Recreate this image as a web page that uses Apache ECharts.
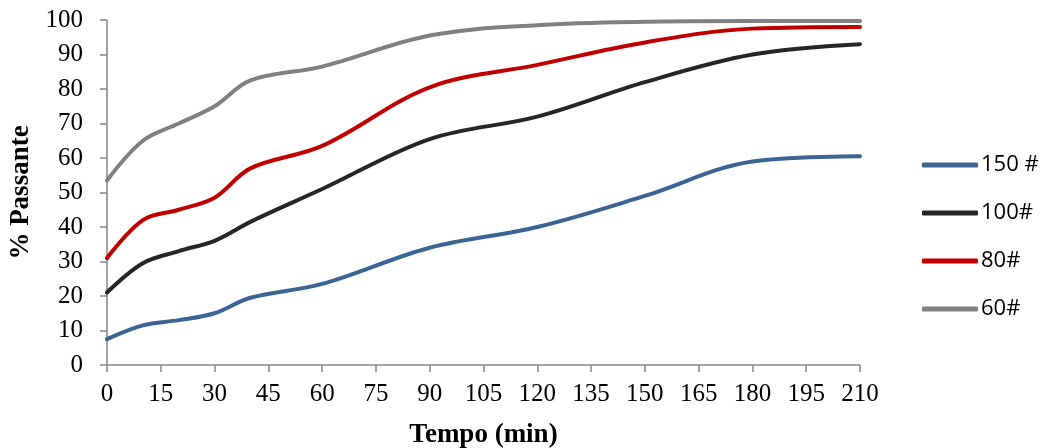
<!DOCTYPE html>
<html>
<head>
<meta charset="utf-8">
<script src="https://cdn.jsdelivr.net/npm/echarts@6/dist/echarts.min.js"></script>
<style>
  html, body { margin: 0; padding: 0; background: #fff; }
  #chart { width: 1046px; height: 448px; }
</style>
</head>
<body>
<div id="chart"></div>
<script>
// tempo (min) dos pontos medidos
let tempo = [0, 10, 20, 30, 40, 60, 90, 120, 150, 180, 210];

// % passante por malha
let malha150 = [7.5, 11.5, 13, 15, 19.5, 23.5, 34, 40, 49, 59, 60.5];
let malha100 = [21, 29.5, 33, 36, 41.5, 51, 65.5, 72, 82, 90, 93];
let malha80 = [31, 42, 45, 48.5, 57, 63.5, 80.5, 87, 93.5, 97.5, 98];
let malha60 = [53.5, 65, 70, 75, 82.5, 86.5, 95.5, 98.5, 99.5, 99.7, 99.7];

let nomes = ['150 #', '100#', '80#', '60#'];
let cores = ['#3b6494', '#262626', '#c00000', '#808080'];

function pares(vals) {
    return tempo.map((t, i) => [t, vals[i]]);
}

let serieDados = [malha150, malha100, malha80, malha60];

let options = {
    animation: false,
    grid: {
        left: 107,
        right: 186,
        top: 20,
        bottom: 83,
        outerBoundsMode: 'none'
    },
    legend: {
        orient: 'vertical',
        left: 917,
        top: 148,
        itemWidth: 56,
        itemHeight: 5,
        itemGap: 24,
        icon: 'roundRect',
        textStyle: {
            fontFamily: 'Open Sans',
            fontSize: 22,
            lineHeight: 24,
            color: '#000',
            padding: [0, 0, 0, -2]
        },
        data: nomes
    },
    xAxis: {
        type: 'value',
        min: 0,
        max: 210,
        interval: 15,
        name: 'Tempo (min)',
        nameLocation: 'middle',
        nameGap: 57,
        nameTextStyle: {
            fontFamily: 'Liberation Serif',
            fontWeight: 'bold',
            fontSize: 27,
            color: '#000'
        },
        axisLine: { lineStyle: { color: '#868686', width: 1.5 } },
        axisTick: { show: true, length: 7, lineStyle: { color: '#868686', width: 1.5 } },
        axisLabel: {
            fontFamily: 'Liberation Serif',
            fontSize: 25,
            color: '#000',
            margin: 17
        },
        splitLine: { show: false }
    },
    yAxis: {
        type: 'value',
        min: 0,
        max: 100,
        interval: 10,
        name: '% Passante',
        nameLocation: 'middle',
        nameGap: 68,
        nameTextStyle: {
            fontFamily: 'Liberation Serif',
            fontWeight: 'bold',
            fontSize: 27,
            color: '#000'
        },
        axisLine: { show: true, lineStyle: { color: '#868686', width: 1.5 } },
        axisTick: { show: true, length: 7, lineStyle: { color: '#868686', width: 1.5 } },
        axisLabel: {
            fontFamily: 'Liberation Serif',
            fontSize: 25,
            color: '#000',
            margin: 24
        },
        splitLine: { show: false }
    },
    series: serieDados.map((vals, i) => ({
        name: nomes[i],
        type: 'line',
        smooth: 0.35,
        symbol: 'none',
        lineStyle: { width: 4, color: cores[i], cap: 'round' },
        itemStyle: { color: cores[i] },
        data: pares(vals)
    }))
};

let chart = echarts.init(document.getElementById('chart'));
chart.setOption(options);
</script>
</body>
</html>
